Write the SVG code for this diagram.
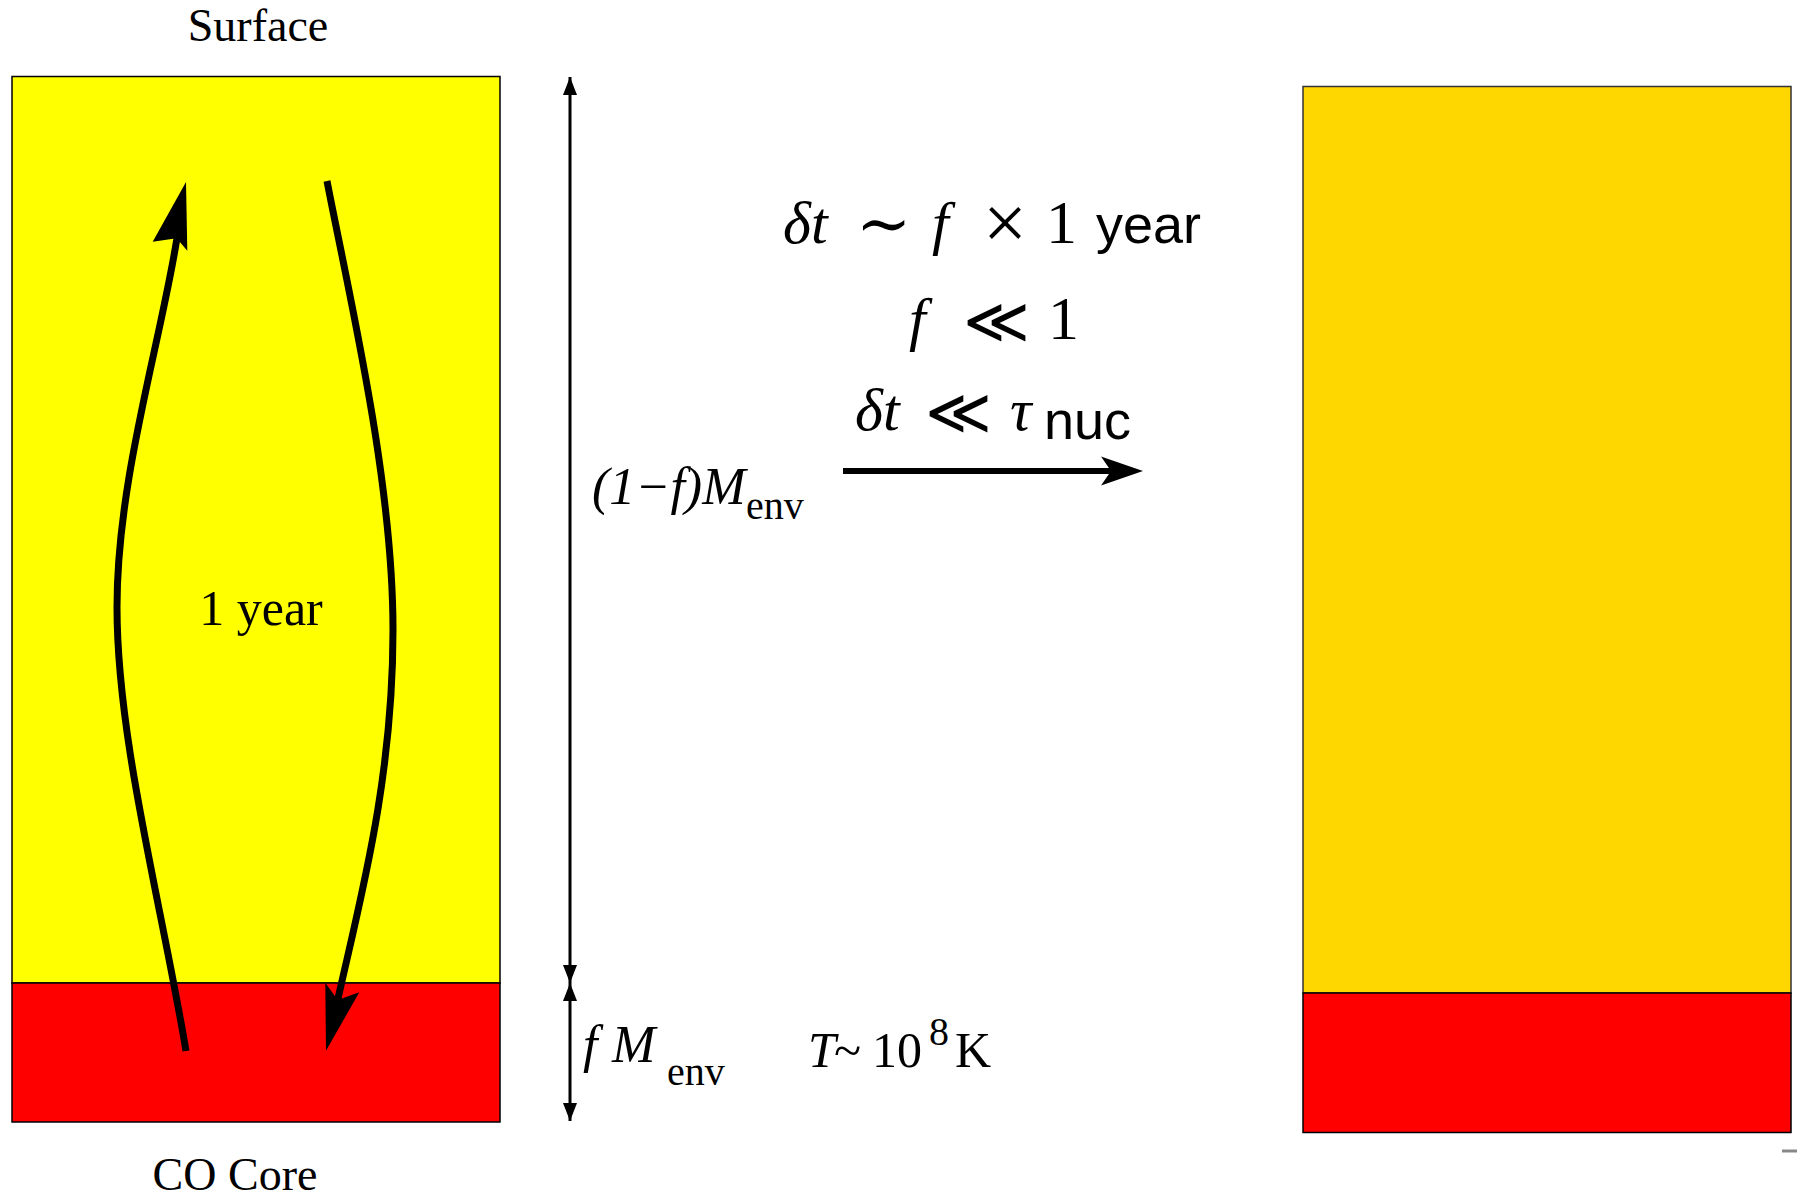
<svg xmlns="http://www.w3.org/2000/svg" width="1797" height="1197" viewBox="0 0 1797 1197">
<style>
.box{stroke:#000;stroke-width:1.5}
.rm{font-family:"Liberation Serif","DejaVu Serif",serif;fill:#000}
.it{font-family:"Liberation Serif","DejaVu Serif",serif;font-style:italic;fill:#000}
.sf{font-family:"Liberation Sans","DejaVu Sans",sans-serif;fill:#000}
.ll{font-family:"DejaVu Sans",sans-serif;font-weight:200;fill:#000}
.curve{fill:none;stroke:#000;stroke-width:7}
.dim{stroke:#000;stroke-width:3;fill:none}
.head{fill:#000;stroke:none}
</style>
<defs>
<marker id="dimhead" viewBox="0 0 18 14" refX="18" refY="7" markerWidth="18" markerHeight="14" markerUnits="userSpaceOnUse" orient="auto-start-reverse">
<path d="M0,0 L18,7 L0,14 Z" fill="#000"/>
</marker>
</defs>
<rect width="1797" height="1197" fill="#fff"/>
<g id="left-star">
<rect id="left-envelope" class="box" x="12" y="76.5" width="488" height="906.5" fill="#FFFF00"/>
<rect id="left-core" class="box" x="12" y="983" width="488" height="139" fill="#FF0000"/>
</g>
<g id="right-star">
<rect id="right-envelope" x="1303" y="86.5" width="488" height="906.5" fill="#FFD700" stroke="#333" stroke-width="1.5"/>
<rect id="right-core" class="box" x="1303" y="993" width="488" height="139.5" fill="#FF0000"/>
</g>
<g id="connectors">
<path id="up-flow" class="curve" d="M186,1051 C161,901 117,740 117,607 C117,480 160,345 177,238"/>
<polygon class="head" points="186,182 152.7,241.7 176.7,238.3 187.3,250.7"/>
<path id="down-flow" class="curve" d="M327,181 C350,300 393,480 393,630 C393,780 360,900 337.7,1000"/>
<polygon class="head" points="326,1050.7 325.3,982.7 337.7,1000 359.3,992.3"/>
<line id="dim-envelope" class="dim" x1="570" y1="77" x2="570" y2="983" marker-start="url(#dimhead)" marker-end="url(#dimhead)"/>
<line id="dim-core" class="dim" x1="570" y1="983" x2="570" y2="1121" marker-start="url(#dimhead)" marker-end="url(#dimhead)"/>
<line id="evolve" x1="843" y1="471" x2="1112" y2="471" stroke="#000" stroke-width="6"/>
<polygon class="head" points="1143,471 1101,456.5 1111,471 1101,485.5"/>
<line id="corner-dash" x1="1782" y1="1151" x2="1797" y2="1151" stroke="#888" stroke-width="3"/>
</g>
<g id="labels">
<text class="rm" x="258" y="41" font-size="46" text-anchor="middle">Surface</text>
<text class="rm" x="235" y="1190" font-size="46" text-anchor="middle">CO Core</text>
<text class="rm" x="261" y="625" font-size="50" text-anchor="middle">1 year</text>
<text class="it" x="592" y="504" font-size="52">(1−f)M</text>
<text class="rm" x="746" y="519" font-size="40">env</text>
<text class="it" x="583" y="1062" font-size="52">f</text>
<text class="it" x="612" y="1062" font-size="52">M</text>
<text class="rm" x="667" y="1085" font-size="40">env</text>
<text class="it" x="808" y="1067" font-size="50">T</text>
<text class="rm" x="834" y="1067" font-size="50">~</text>
<text class="rm" x="872" y="1067" font-size="50">10</text>
<text class="rm" x="929" y="1045" font-size="40">8</text>
<text class="rm" x="955" y="1067" font-size="50">K</text>
<text class="it" x="783" y="243" font-size="60">δt</text>
<text class="rm" x="856" y="246" font-size="66">∼</text>
<text class="it" x="932" y="243" font-size="60">f</text>
<text class="rm" x="983" y="249" font-size="78">×</text>
<text class="rm" x="1046" y="243" font-size="62">1</text>
<text class="sf" x="1096" y="243" font-size="54">year</text>
<text class="it" x="909" y="339" font-size="60">f</text>
<text class="ll" x="963" y="343" font-size="64">≪</text>
<text class="rm" x="1048" y="339" font-size="62">1</text>
<text class="it" x="855" y="430" font-size="60">δt</text>
<text class="ll" x="925" y="434" font-size="64">≪</text>
<text class="it" x="1010" y="430" font-size="60">τ</text>
<text class="sf" x="1044" y="439" font-size="54">nuc</text>
</g>
</svg>
